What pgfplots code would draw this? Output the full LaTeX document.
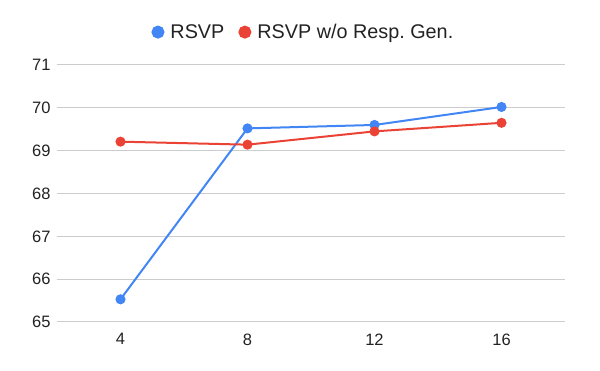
\documentclass[border=0pt]{standalone}
\usepackage{fontspec}
\setmainfont{Liberation Sans}
\usepackage{pgfplots}
\pgfplotsset{compat=1.18}
\frenchspacing

\definecolor{gblue}{HTML}{4285F4}
\definecolor{gred}{HTML}{EA4335}
\definecolor{ggrid}{HTML}{CCCCCC}
\definecolor{gtext}{HTML}{222222}

\begin{document}
\begin{tikzpicture}
\useasboundingbox (-57pt,-49pt) rectangle (543pt,322pt);
\begin{axis}[
  at={(0,0)}, anchor=south west,
  scale only axis,
  width=508pt, height=257pt,
  xmin=2, xmax=18,
  ymin=65, ymax=71,
  xtick={4,8,12,16},
  ytick={65,66,67,68,69,70,71},
  axis line style={draw=none},
  ymajorgrids,
  grid style={ggrid, line width=1pt},
  major tick length=0pt,
  /pgf/number format/assume math mode=true,
  ticklabel style={font=\fontsize{16.5}{19}\selectfont, text=gtext},
  yticklabel style={xshift=-3pt},
  xticklabel style={yshift=-8pt},
  every axis plot/.append style={line width=2pt, mark=*, mark size=4pt},
  legend style={at={(0.485,1.128)}, anchor=center, draw=none, fill=none,
    legend columns=-1, font=\fontsize{19.8}{22}\selectfont, text=gtext,
    /tikz/every odd column/.append style={column sep=4pt},
    /tikz/every even column/.append style={column sep=12pt}},
  legend image code/.code={\fill[#1] (0pt,0pt) circle (5.5pt);
    \path[draw=none, fill=none] (-5.5pt,0pt) -- (6pt,0pt);},
]

\addplot[color=gblue, mark options={fill=gblue, draw=gblue}]
  coordinates {(4,65.53) (8,69.52) (12,69.60) (16,70.02)};

\addplot[color=gred, mark options={fill=gred, draw=gred}]
  coordinates {(4,69.21) (8,69.14) (12,69.45) (16,69.65)};

\legend{RSVP, RSVP w/o Resp. Gen.}
\end{axis}
\end{tikzpicture}
\end{document}
